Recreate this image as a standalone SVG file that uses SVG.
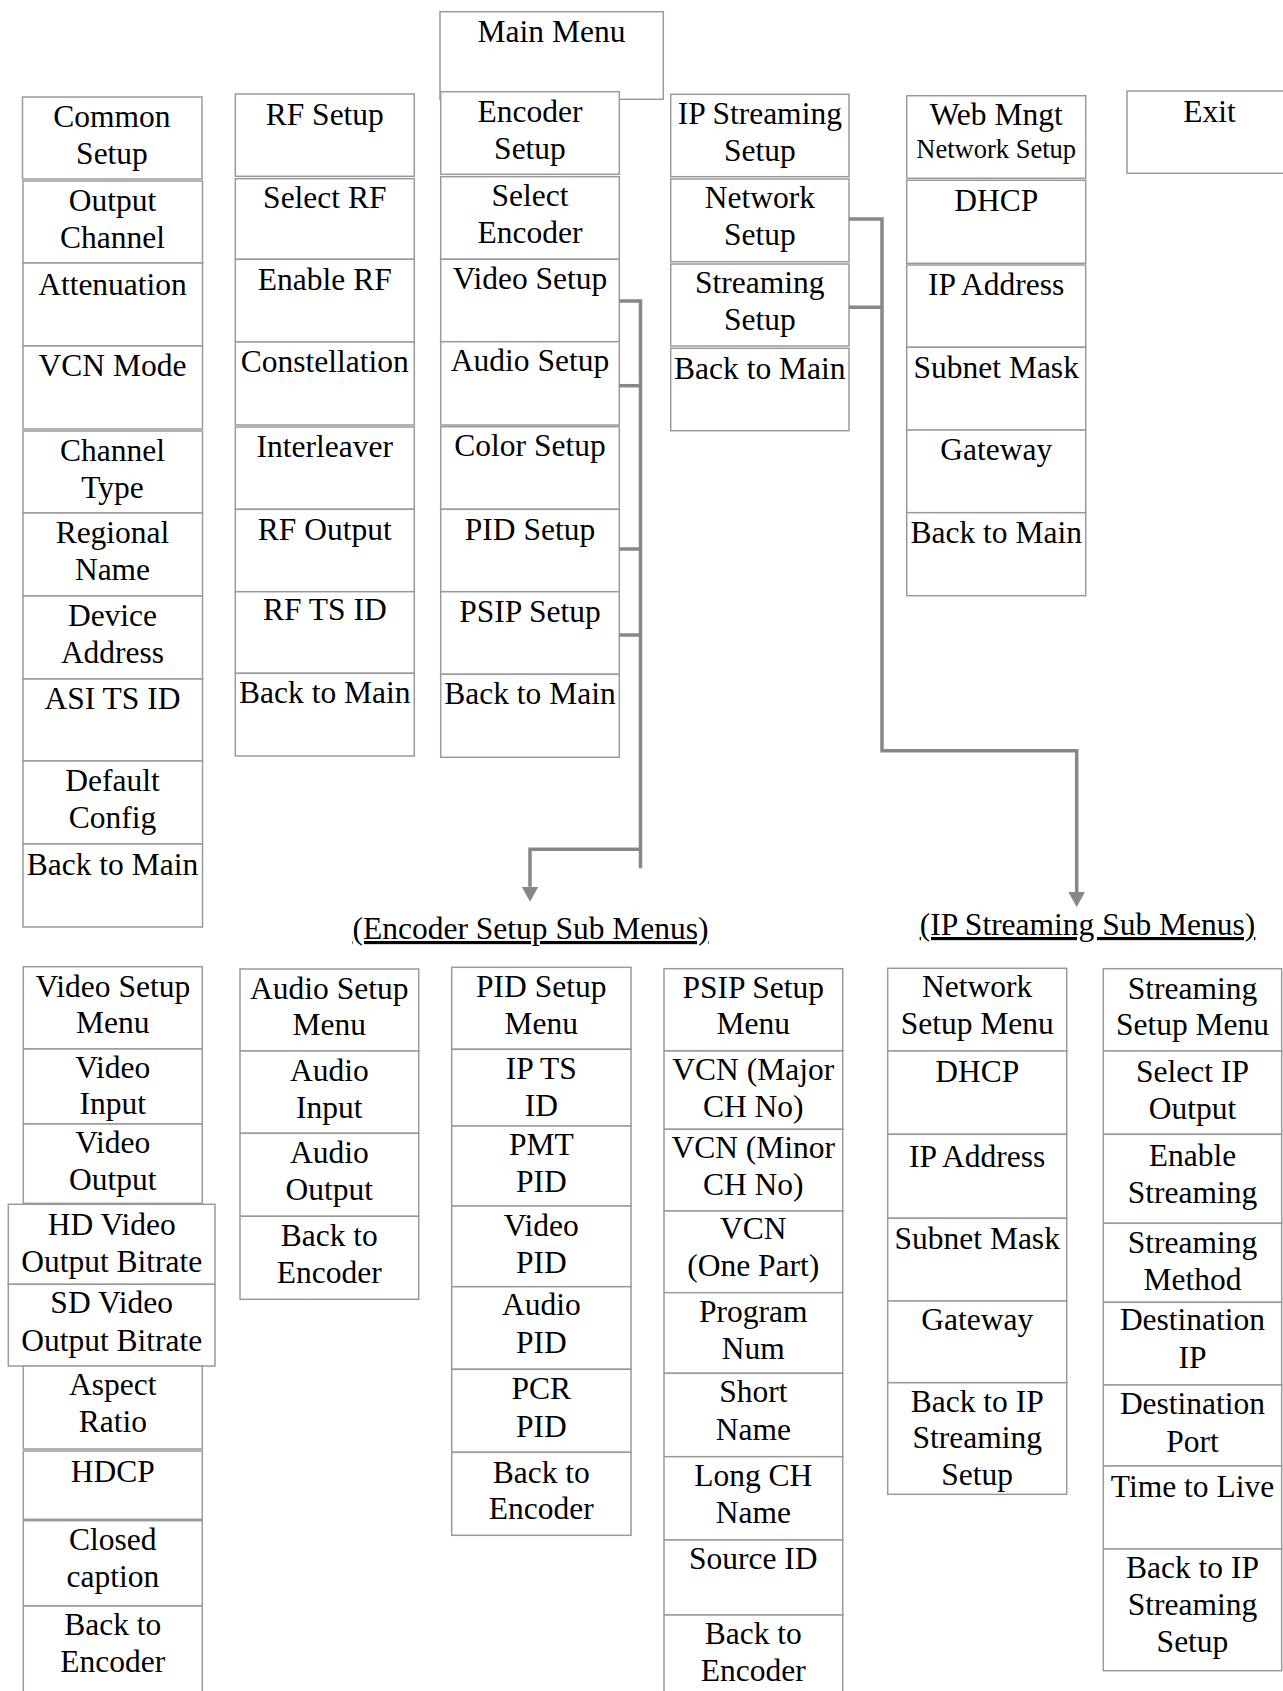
<svg xmlns="http://www.w3.org/2000/svg" width="1283" height="1691" viewBox="0 0 1283 1691">
<style>
.b{fill:#fff;stroke:#9a9a9a;stroke-width:1.5}
.t{font-family:"Liberation Serif","Times New Roman",serif;font-size:31.5px;text-anchor:middle;fill:#000}
.s{font-size:26.5px}
.u{text-decoration:underline;text-decoration-skip-ink:none}
.c{fill:none;stroke:#878787;stroke-width:3.5}
</style>
<defs>
<marker id="ah" markerUnits="userSpaceOnUse" viewBox="0 0 15 16.6" refX="0" refY="8.3" markerWidth="15" markerHeight="16.6" orient="auto">
<path d="M0,0 L15,8.3 L0,16.6 z" fill="#878787"/>
</marker>
</defs>
<rect width="1283" height="1691" fill="#fff"/>

<!-- Main menu -->
<g id="main-menu"><rect class="b" x="440" y="11.7" width="223.3" height="87.6"/><text class="t" x="551.5" y="41.7">Main Menu</text></g>

<!-- Common Setup column -->
<g id="common-setup"><rect class="b" x="22.5" y="97" width="179.5" height="82"/><text class="t"><tspan x="112" y="127">Common</tspan><tspan x="112" y="164">Setup</tspan></text></g>
<g id="output-channel"><rect class="b" x="23" y="181" width="179.5" height="82"/><text class="t"><tspan x="112.5" y="211">Output</tspan><tspan x="112.5" y="248">Channel</tspan></text></g>
<g id="attenuation"><rect class="b" x="23" y="263" width="179.5" height="83"/><text class="t" x="112.5" y="295">Attenuation</text></g>
<g id="vcn-mode"><rect class="b" x="23" y="346" width="179.5" height="83"/><text class="t" x="112.5" y="376">VCN Mode</text></g>
<g id="channel-type"><rect class="b" x="23" y="431" width="179.5" height="82"/><text class="t"><tspan x="112.5" y="461">Channel</tspan><tspan x="112.5" y="498">Type</tspan></text></g>
<g id="regional-name"><rect class="b" x="23" y="513" width="179.5" height="83"/><text class="t"><tspan x="112.5" y="543.3">Regional</tspan><tspan x="112.5" y="580">Name</tspan></text></g>
<g id="device-address"><rect class="b" x="23" y="596" width="179.5" height="83"/><text class="t"><tspan x="112.5" y="625.7">Device</tspan><tspan x="112.5" y="662.7">Address</tspan></text></g>
<g id="asi-ts-id"><rect class="b" x="23" y="679" width="179.5" height="82"/><text class="t" x="112.5" y="709.3">ASI TS ID</text></g>
<g id="default-config"><rect class="b" x="23" y="761" width="179.5" height="83"/><text class="t"><tspan x="112.5" y="791">Default</tspan><tspan x="112.5" y="827.7">Config</tspan></text></g>
<g id="common-back"><rect class="b" x="23" y="844" width="179.5" height="83"/><text class="t" x="112.5" y="875">Back to Main</text></g>

<!-- RF Setup column -->
<g id="rf-setup"><rect class="b" x="235.3" y="94" width="179" height="82.3"/><text class="t" x="324.8" y="125">RF Setup</text></g>
<g id="select-rf"><rect class="b" x="235.3" y="178.7" width="179" height="80.6"/><text class="t" x="324.8" y="208.3">Select RF</text></g>
<g id="enable-rf"><rect class="b" x="235.3" y="259.3" width="179" height="82.7"/><text class="t" x="324.8" y="290">Enable RF</text></g>
<g id="constellation"><rect class="b" x="235.3" y="342" width="179" height="83"/><text class="t" x="324.8" y="371.7">Constellation</text></g>
<g id="interleaver"><rect class="b" x="235.3" y="427" width="179" height="82.3"/><text class="t" x="324.8" y="456.7">Interleaver</text></g>
<g id="rf-output"><rect class="b" x="235.3" y="509.3" width="179" height="82.4"/><text class="t" x="324.8" y="540">RF Output</text></g>
<g id="rf-ts-id"><rect class="b" x="235.3" y="591.7" width="179" height="81.6"/><text class="t" x="324.8" y="620">RF TS ID</text></g>
<g id="rf-back"><rect class="b" x="235.3" y="673.3" width="179" height="82.7"/><text class="t" x="324.8" y="703.3">Back to Main</text></g>

<!-- Encoder Setup column -->
<g id="encoder-setup"><rect class="b" x="440.7" y="91.7" width="178.6" height="82.6"/><text class="t"><tspan x="530" y="121.7">Encoder</tspan><tspan x="530" y="158.7">Setup</tspan></text></g>
<g id="select-encoder"><rect class="b" x="440.7" y="176.7" width="178.6" height="82.6"/><text class="t"><tspan x="530" y="206">Select</tspan><tspan x="530" y="242.7">Encoder</tspan></text></g>
<g id="video-setup"><rect class="b" x="440.7" y="259.3" width="178.6" height="82.4"/><text class="t" x="530" y="289.3">Video Setup</text></g>
<g id="audio-setup"><rect class="b" x="440.7" y="341.7" width="178.6" height="83.3"/><text class="t" x="530" y="371">Audio Setup</text></g>
<g id="color-setup"><rect class="b" x="440.7" y="426.7" width="178.6" height="82.6"/><text class="t" x="530" y="456">Color Setup</text></g>
<g id="pid-setup"><rect class="b" x="440.7" y="509.3" width="178.6" height="82.4"/><text class="t" x="530" y="540">PID Setup</text></g>
<g id="psip-setup"><rect class="b" x="440.7" y="591.7" width="178.6" height="82.6"/><text class="t" x="530" y="621.7">PSIP Setup</text></g>
<g id="encoder-back"><rect class="b" x="440.7" y="674.3" width="178.6" height="83"/><text class="t" x="530" y="704.3">Back to Main</text></g>

<!-- IP Streaming column -->
<g id="ip-streaming-setup"><rect class="b" x="670.7" y="94.3" width="178.3" height="82.4"/><text class="t"><tspan x="759.8" y="124">IP Streaming</tspan><tspan x="759.8" y="161">Setup</tspan></text></g>
<g id="network-setup"><rect class="b" x="670.7" y="179" width="178.3" height="82.7"/><text class="t"><tspan x="759.8" y="208.3">Network</tspan><tspan x="759.8" y="245.3">Setup</tspan></text></g>
<g id="streaming-setup"><rect class="b" x="670.7" y="264" width="178.3" height="82"/><text class="t"><tspan x="759.8" y="293.3">Streaming</tspan><tspan x="759.8" y="330.3">Setup</tspan></text></g>
<g id="ip-back"><rect class="b" x="670.7" y="348.3" width="178.3" height="82.4"/><text class="t" x="759.8" y="379.3">Back to Main</text></g>

<!-- Web Mngt column -->
<g id="web-mngt"><rect class="b" x="906.7" y="95.7" width="179" height="82.6"/><text class="t"><tspan x="996.2" y="125">Web Mngt</tspan><tspan class="s" x="996.2" y="158.3">Network Setup</tspan></text></g>
<g id="web-dhcp"><rect class="b" x="906.7" y="180.3" width="179" height="83"/><text class="t" x="996.2" y="210.7">DHCP</text></g>
<g id="web-ip-address"><rect class="b" x="906.7" y="265" width="179" height="82.3"/><text class="t" x="996.2" y="295">IP Address</text></g>
<g id="web-subnet-mask"><rect class="b" x="906.7" y="347.3" width="179" height="82.7"/><text class="t" x="996.2" y="378.3">Subnet Mask</text></g>
<g id="web-gateway"><rect class="b" x="906.7" y="430" width="179" height="82.7"/><text class="t" x="996.2" y="460">Gateway</text></g>
<g id="web-back"><rect class="b" x="906.7" y="512.7" width="179" height="83"/><text class="t" x="996.2" y="543.3">Back to Main</text></g>

<!-- Exit -->
<g id="exit"><rect class="b" x="1127" y="91" width="170" height="82.3"/><text class="t" x="1209.5" y="121.7">Exit</text></g>

<!-- Section titles -->
<g id="encoder-sub-title"><text class="t u" x="530.5" y="939">(Encoder Setup Sub Menus)</text></g>
<g id="ip-sub-title"><text class="t u" x="1087.5" y="935">(IP Streaming Sub Menus)</text></g>

<!-- Video Setup Menu column -->
<g id="video-setup-menu"><rect class="b" x="23.3" y="966.7" width="179" height="82.3"/><text class="t"><tspan x="112.8" y="996.7">Video Setup</tspan><tspan x="112.8" y="1033.3">Menu</tspan></text></g>
<g id="video-input"><rect class="b" x="23.3" y="1049" width="179" height="75"/><text class="t"><tspan x="112.8" y="1077.7">Video</tspan><tspan x="112.8" y="1114.3">Input</tspan></text></g>
<g id="video-output"><rect class="b" x="23.3" y="1124" width="179" height="79.3"/><text class="t"><tspan x="112.8" y="1153.3">Video</tspan><tspan x="112.8" y="1190">Output</tspan></text></g>
<g id="hd-video-bitrate"><rect class="b" x="8.3" y="1204.3" width="206.7" height="80"/><text class="t"><tspan x="111.7" y="1235">HD Video</tspan><tspan x="111.7" y="1271.7">Output Bitrate</tspan></text></g>
<g id="sd-video-bitrate"><rect class="b" x="8.3" y="1284.3" width="206.7" height="81.7"/><text class="t"><tspan x="111.7" y="1313.3">SD Video</tspan><tspan x="111.7" y="1350.7">Output Bitrate</tspan></text></g>
<g id="aspect-ratio"><rect class="b" x="23.3" y="1366" width="179" height="83"/><text class="t"><tspan x="112.8" y="1395">Aspect</tspan><tspan x="112.8" y="1432.3">Ratio</tspan></text></g>
<g id="hdcp"><rect class="b" x="23.3" y="1451" width="179" height="68.3"/><text class="t" x="112.8" y="1481.7">HDCP</text></g>
<g id="closed-caption"><rect class="b" x="23.3" y="1520.7" width="179" height="85"/><text class="t"><tspan x="112.8" y="1550">Closed</tspan><tspan x="112.8" y="1586.7">caption</tspan></text></g>
<g id="video-back"><rect class="b" x="23.3" y="1606" width="179" height="90"/><text class="t"><tspan x="112.8" y="1635">Back to</tspan><tspan x="112.8" y="1671.7">Encoder</tspan></text></g>

<!-- Audio Setup Menu column -->
<g id="audio-setup-menu"><rect class="b" x="240" y="969" width="178.7" height="82"/><text class="t"><tspan x="329.3" y="999">Audio Setup</tspan><tspan x="329.3" y="1035">Menu</tspan></text></g>
<g id="audio-input"><rect class="b" x="240" y="1051" width="178.7" height="82.3"/><text class="t"><tspan x="329.3" y="1081">Audio</tspan><tspan x="329.3" y="1118">Input</tspan></text></g>
<g id="audio-output"><rect class="b" x="240" y="1133.3" width="178.7" height="83"/><text class="t"><tspan x="329.3" y="1162.7">Audio</tspan><tspan x="329.3" y="1199.7">Output</tspan></text></g>
<g id="audio-back"><rect class="b" x="240" y="1216.3" width="178.7" height="83"/><text class="t"><tspan x="329.3" y="1246">Back to</tspan><tspan x="329.3" y="1282.7">Encoder</tspan></text></g>

<!-- PID Setup Menu column -->
<g id="pid-setup-menu"><rect class="b" x="451.7" y="967.3" width="179.3" height="82"/><text class="t"><tspan x="541.3" y="997.3">PID Setup</tspan><tspan x="541.3" y="1034">Menu</tspan></text></g>
<g id="ip-ts-id"><rect class="b" x="451.7" y="1049.3" width="179.3" height="76.7"/><text class="t"><tspan x="541.3" y="1079">IP TS</tspan><tspan x="541.3" y="1116">ID</tspan></text></g>
<g id="pmt-pid"><rect class="b" x="451.7" y="1126" width="179.3" height="80"/><text class="t"><tspan x="541.3" y="1155">PMT</tspan><tspan x="541.3" y="1192">PID</tspan></text></g>
<g id="video-pid"><rect class="b" x="451.7" y="1206" width="179.3" height="80.7"/><text class="t"><tspan x="541.3" y="1236">Video</tspan><tspan x="541.3" y="1273">PID</tspan></text></g>
<g id="audio-pid"><rect class="b" x="451.7" y="1286.7" width="179.3" height="82.6"/><text class="t"><tspan x="541.3" y="1315">Audio</tspan><tspan x="541.3" y="1352.5">PID</tspan></text></g>
<g id="pcr-pid"><rect class="b" x="451.7" y="1369.3" width="179.3" height="83"/><text class="t"><tspan x="541.3" y="1399.3">PCR</tspan><tspan x="541.3" y="1437.3">PID</tspan></text></g>
<g id="pid-back"><rect class="b" x="451.7" y="1452.3" width="179.3" height="83"/><text class="t"><tspan x="541.3" y="1482.7">Back to</tspan><tspan x="541.3" y="1519.3">Encoder</tspan></text></g>

<!-- PSIP Setup Menu column -->
<g id="psip-setup-menu"><rect class="b" x="664" y="968.7" width="178.7" height="82"/><text class="t"><tspan x="753.3" y="997.7">PSIP Setup</tspan><tspan x="753.3" y="1034">Menu</tspan></text></g>
<g id="vcn-major"><rect class="b" x="664" y="1051" width="178.7" height="78.3"/><text class="t"><tspan x="753.3" y="1080">VCN (Major</tspan><tspan x="753.3" y="1117">CH No)</tspan></text></g>
<g id="vcn-minor"><rect class="b" x="664" y="1129.3" width="178.7" height="81.7"/><text class="t"><tspan x="753.3" y="1158.3">VCN (Minor</tspan><tspan x="753.3" y="1195.3">CH No)</tspan></text></g>
<g id="vcn-one-part"><rect class="b" x="664" y="1211" width="178.7" height="81.7"/><text class="t"><tspan x="753.3" y="1239.3">VCN</tspan><tspan x="753.3" y="1276.3">(One Part)</tspan></text></g>
<g id="program-num"><rect class="b" x="664" y="1292.7" width="178.7" height="80.6"/><text class="t"><tspan x="753.3" y="1321.7">Program</tspan><tspan x="753.3" y="1359">Num</tspan></text></g>
<g id="short-name"><rect class="b" x="664" y="1373.3" width="178.7" height="83.4"/><text class="t"><tspan x="753.3" y="1402.3">Short</tspan><tspan x="753.3" y="1440">Name</tspan></text></g>
<g id="long-ch-name"><rect class="b" x="664" y="1456.7" width="178.7" height="83.3"/><text class="t"><tspan x="753.3" y="1486">Long CH</tspan><tspan x="753.3" y="1522.7">Name</tspan></text></g>
<g id="source-id"><rect class="b" x="664" y="1540" width="178.7" height="75"/><text class="t" x="753.3" y="1569.3">Source ID</text></g>
<g id="psip-back"><rect class="b" x="664" y="1615" width="178.7" height="81"/><text class="t"><tspan x="753.3" y="1644">Back to</tspan><tspan x="753.3" y="1680.7">Encoder</tspan></text></g>

<!-- Network Setup Menu column -->
<g id="network-setup-menu"><rect class="b" x="887.7" y="968.3" width="179" height="82.7"/><text class="t"><tspan x="977.2" y="997.3">Network</tspan><tspan x="977.2" y="1034">Setup Menu</tspan></text></g>
<g id="net-dhcp"><rect class="b" x="887.7" y="1051" width="179" height="83.3"/><text class="t" x="977.2" y="1081.7">DHCP</text></g>
<g id="net-ip-address"><rect class="b" x="887.7" y="1134.3" width="179" height="84"/><text class="t" x="977.2" y="1166.7">IP Address</text></g>
<g id="net-subnet-mask"><rect class="b" x="887.7" y="1218.3" width="179" height="82.7"/><text class="t" x="977.2" y="1249.3">Subnet Mask</text></g>
<g id="net-gateway"><rect class="b" x="887.7" y="1301" width="179" height="81.7"/><text class="t" x="977.2" y="1330">Gateway</text></g>
<g id="net-back"><rect class="b" x="887.7" y="1382.7" width="179" height="111.6"/><text class="t"><tspan x="977.2" y="1411.7">Back to IP</tspan><tspan x="977.2" y="1448.3">Streaming</tspan><tspan x="977.2" y="1485">Setup</tspan></text></g>

<!-- Streaming Setup Menu column -->
<g id="streaming-setup-menu"><rect class="b" x="1103.3" y="968.7" width="178.4" height="82.3"/><text class="t"><tspan x="1192.5" y="999">Streaming</tspan><tspan x="1192.5" y="1035.3">Setup Menu</tspan></text></g>
<g id="select-ip-output"><rect class="b" x="1103.3" y="1051" width="178.4" height="83.3"/><text class="t"><tspan x="1192.5" y="1081.7">Select IP</tspan><tspan x="1192.5" y="1118.7">Output</tspan></text></g>
<g id="enable-streaming"><rect class="b" x="1103.3" y="1134.3" width="178.4" height="89"/><text class="t"><tspan x="1192.5" y="1166">Enable</tspan><tspan x="1192.5" y="1203">Streaming</tspan></text></g>
<g id="streaming-method"><rect class="b" x="1103.3" y="1223.3" width="178.4" height="79"/><text class="t"><tspan x="1192.5" y="1253.3">Streaming</tspan><tspan x="1192.5" y="1290.3">Method</tspan></text></g>
<g id="destination-ip"><rect class="b" x="1103.3" y="1302.3" width="178.4" height="82.7"/><text class="t"><tspan x="1192.5" y="1330">Destination</tspan><tspan x="1192.5" y="1368">IP</tspan></text></g>
<g id="destination-port"><rect class="b" x="1103.3" y="1385" width="178.4" height="81"/><text class="t"><tspan x="1192.5" y="1414.3">Destination</tspan><tspan x="1192.5" y="1451.7">Port</tspan></text></g>
<g id="time-to-live"><rect class="b" x="1103.3" y="1466" width="178.4" height="83"/><text class="t" x="1192.5" y="1496.7">Time to Live</text></g>
<g id="streaming-back"><rect class="b" x="1103.3" y="1549" width="178.4" height="121.7"/><text class="t"><tspan x="1192.5" y="1578.3">Back to IP</tspan><tspan x="1192.5" y="1615">Streaming</tspan><tspan x="1192.5" y="1651.7">Setup</tspan></text></g>

<!-- Connectors -->
<g id="connectors">
<path class="c" d="M619.3,301 H640.5 V868.3"/>
<path class="c" d="M619.3,385.7 H640.5"/>
<path class="c" d="M619.3,549 H640.5"/>
<path class="c" d="M619.3,635 H640.5"/>
<path class="c" d="M640.5,849.3 H530 V886.7" marker-end="url(#ah)"/>
<path class="c" d="M849,219 H882 V750.7 H1076.7 V892" marker-end="url(#ah)"/>
<path class="c" d="M849,307.3 H882"/>
</g>
</svg>
